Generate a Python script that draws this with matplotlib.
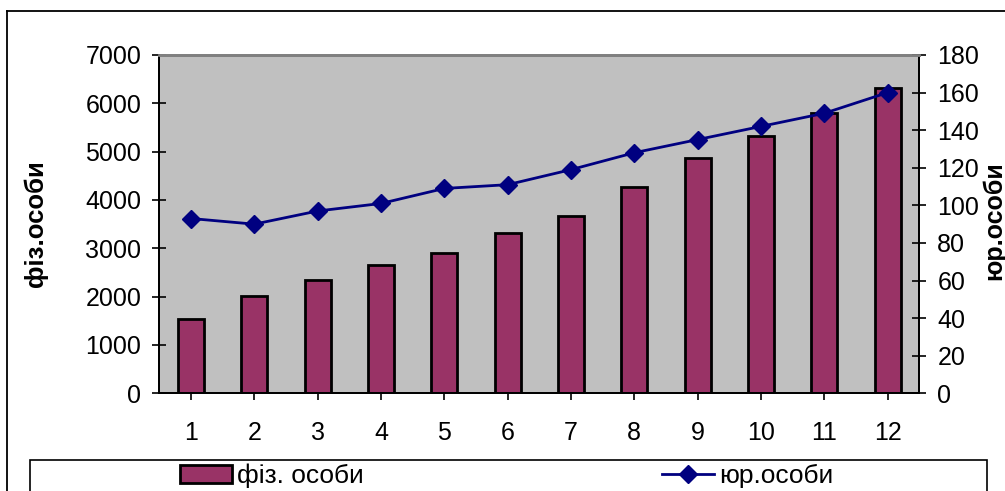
import matplotlib
matplotlib.use('Agg')
import matplotlib.pyplot as plt
from matplotlib.patches import Rectangle
from matplotlib.lines import Line2D

plt.rcParams['font.family'] = ['Liberation Sans', 'DejaVu Sans']

months = list(range(1, 13))
fiz_osoby = [1540, 2010, 2350, 2650, 2900, 3310, 3670, 4260, 4860, 5320, 5810, 6310]
yur_osoby = [93, 90, 97, 101, 109, 111, 119, 128, 135, 142, 149, 160]

W, H = 1005, 491
fig = plt.figure(figsize=(W / 100, H / 100), dpi=100)
ax = fig.add_axes([159.3 / W, 1 - 393.3 / H, (919.3 - 159.3) / W, (393.3 - 55) / H])
ax2 = ax.twinx()

ax.set_facecolor('#C0C0C0')
bars = ax.bar(months, fiz_osoby, width=0.41, color='#993366',
              edgecolor='black', linewidth=2, zorder=2, label='фіз. особи')
line, = ax2.plot(months, yur_osoby, color='#000080', linewidth=2,
                 marker='D', markersize=9.5, label='юр.особи', zorder=3)

ax.set_xlim(0.5, 12.5)
ax.set_ylim(0, 7000)
ax.set_yticks(range(0, 7001, 1000))
ax.set_xticks(months)
ax2.set_ylim(0, 180)
ax2.set_yticks(range(0, 181, 20))

for a in (ax, ax2):
    for side in ('left', 'right', 'bottom'):
        a.spines[side].set_color('black')
        a.spines[side].set_linewidth(1.3)
    a.spines['top'].set_color('#808080')
    a.spines['top'].set_linewidth(2)

ax.tick_params(axis='both', direction='inout', length=10, width=1.2,
               labelsize=18, colors='black')
ax.tick_params(axis='y', pad=8)
ax.tick_params(axis='x', pad=15)
ax2.tick_params(axis='y', direction='inout', length=10, width=1.2,
                labelsize=18, pad=8)

fig.text(36 / W, 1 - 224 / H, 'фіз.особи', rotation=90, ha='center',
         va='center', fontsize=18.5, fontweight='bold')
fig.text(994 / W, 1 - 221 / H, 'юр.особи', rotation=90, ha='center',
         va='center', fontsize=18, fontweight='bold')

# chart frame: left and top edges
fig.add_artist(Line2D([7 / W, 7 / W], [0, 1 - 11 / H], transform=fig.transFigure,
                      color='black', linewidth=1.3))
fig.add_artist(Line2D([7 / W, 1], [1 - 11 / H, 1 - 11 / H], transform=fig.transFigure,
                      color='black', linewidth=1.3))

# legend box along the bottom
fig.add_artist(Rectangle((30 / W, -0.05), (987 - 30) / W, 1 - 460 / H + 0.05,
                         transform=fig.transFigure, facecolor='white',
                         edgecolor='black', linewidth=1.2))
fig.legend(handles=[bars, line], loc='center left', ncol=2, frameon=False,
           bbox_to_anchor=(180 / W, 1 - 476 / H), fontsize=19,
           handlelength=1.97, handletextpad=0.19, columnspacing=11.3,
           borderaxespad=0, borderpad=0)

fig.savefig('out.png', dpi=100)
